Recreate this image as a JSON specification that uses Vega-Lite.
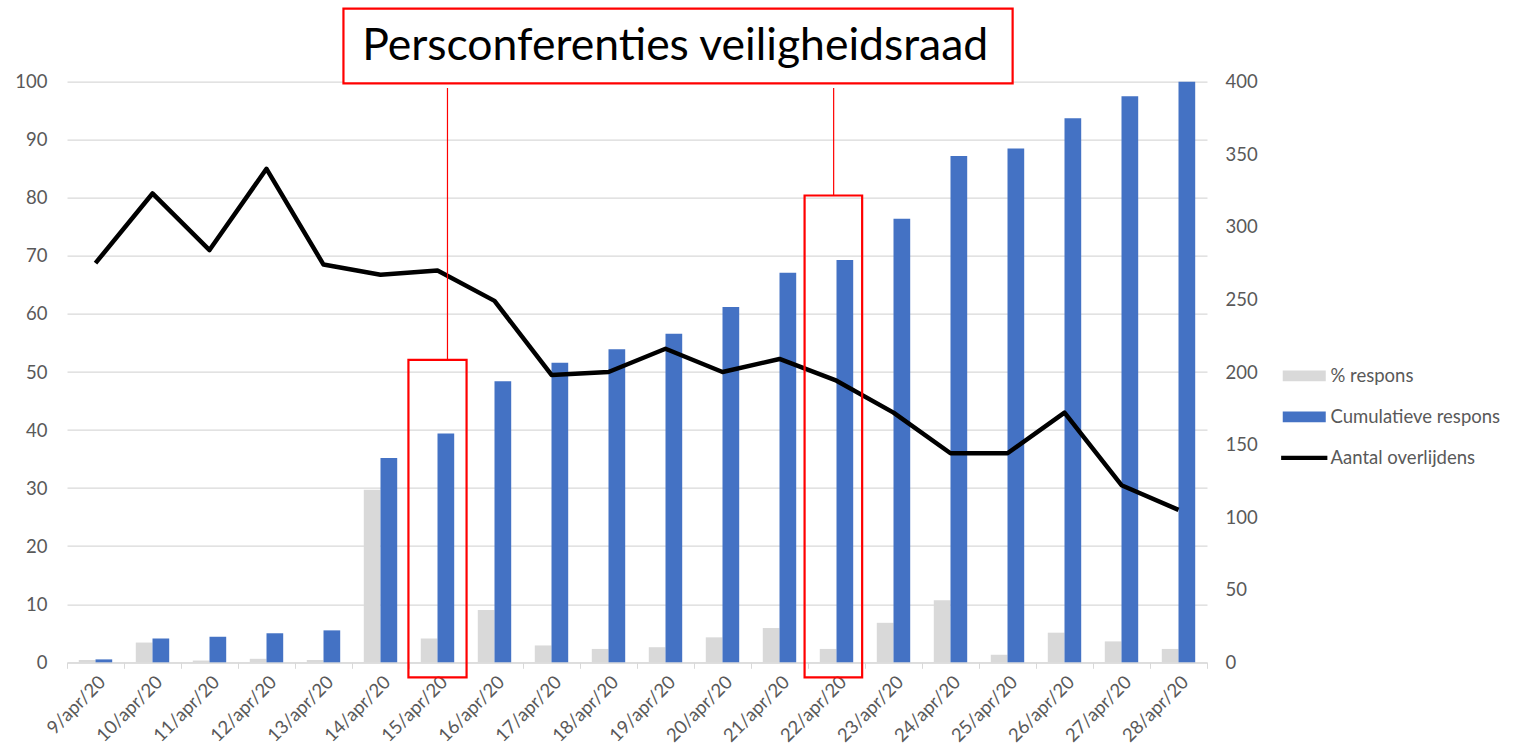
{
  "$schema": "https://vega.github.io/schema/vega-lite/v6.json",
  "width": 1140,
  "height": 580.6,
  "autosize": {"type": "none"},
  "padding": {"left": 67, "top": 81.7, "right": 315, "bottom": 88.7},
  "background": "white",
  "config": {"view": {"stroke": null}, "font": "Lato"},
  "datasets": {
    "main": [
      {"date": "9/apr/20", "% respons": 0.4, "Cumulatieve respons": 0.5, "Aantal overlijdens": 275},
      {"date": "10/apr/20", "% respons": 3.4, "Cumulatieve respons": 4.1, "Aantal overlijdens": 323},
      {"date": "11/apr/20", "% respons": 0.3, "Cumulatieve respons": 4.4, "Aantal overlijdens": 284},
      {"date": "12/apr/20", "% respons": 0.6, "Cumulatieve respons": 5.0, "Aantal overlijdens": 340},
      {"date": "13/apr/20", "% respons": 0.4, "Cumulatieve respons": 5.5, "Aantal overlijdens": 274},
      {"date": "14/apr/20", "% respons": 29.7, "Cumulatieve respons": 35.2, "Aantal overlijdens": 267},
      {"date": "15/apr/20", "% respons": 4.1, "Cumulatieve respons": 39.4, "Aantal overlijdens": 270},
      {"date": "16/apr/20", "% respons": 9.0, "Cumulatieve respons": 48.4, "Aantal overlijdens": 249},
      {"date": "17/apr/20", "% respons": 2.9, "Cumulatieve respons": 51.6, "Aantal overlijdens": 198},
      {"date": "18/apr/20", "% respons": 2.3, "Cumulatieve respons": 53.9, "Aantal overlijdens": 200},
      {"date": "19/apr/20", "% respons": 2.6, "Cumulatieve respons": 56.6, "Aantal overlijdens": 216},
      {"date": "20/apr/20", "% respons": 4.3, "Cumulatieve respons": 61.2, "Aantal overlijdens": 200},
      {"date": "21/apr/20", "% respons": 5.9, "Cumulatieve respons": 67.1, "Aantal overlijdens": 209},
      {"date": "22/apr/20", "% respons": 2.3, "Cumulatieve respons": 69.3, "Aantal overlijdens": 194},
      {"date": "23/apr/20", "% respons": 6.8, "Cumulatieve respons": 76.4, "Aantal overlijdens": 172},
      {"date": "24/apr/20", "% respons": 10.7, "Cumulatieve respons": 87.2, "Aantal overlijdens": 144},
      {"date": "25/apr/20", "% respons": 1.3, "Cumulatieve respons": 88.5, "Aantal overlijdens": 144},
      {"date": "26/apr/20", "% respons": 5.1, "Cumulatieve respons": 93.7, "Aantal overlijdens": 172},
      {"date": "27/apr/20", "% respons": 3.6, "Cumulatieve respons": 97.5, "Aantal overlijdens": 122},
      {"date": "28/apr/20", "% respons": 2.3, "Cumulatieve respons": 100, "Aantal overlijdens": 105}
    ],
    "boxes": [
      {"x1": 5.99, "x2": 7.01, "y1": 52.1, "y2": -2.6},
      {"x1": 12.94, "x2": 13.95, "y1": 80.4, "y2": -2.6}
    ],
    "titlebox": [
      {"x1": 4.85, "x2": 16.59, "y1": 112.6, "y2": 99.7, "text": "Persconferenties veiligheidsraad", "xt": 10.67, "yt": 103.8}
    ],
    "connectors": [
      {"x": 6.675, "y1": 98.9, "y2": 52.1},
      {"x": 13.45, "y1": 98.9, "y2": 80.4}
    ]
  },
  "resolve": {"scale": {"x": "independent", "y": "independent"}},
  "layer": [
    {
      "data": {"name": "main"},
      "transform": [{"fold": ["% respons", "Cumulatieve respons"], "as": ["series", "value"]}],
      "mark": {"type": "bar"},
      "encoding": {
        "x": {
          "field": "date", "type": "nominal", "sort": null,
          "scale": {"paddingInner": 0, "paddingOuter": 0},
          "axis": {
            "title": null, "labelAngle": -45, "labelFont": "Lato", "labelFontSize": 18.5,
            "labelColor": "#595959", "tickBand": "extent", "ticks": true, "tickSize": 6,
            "tickColor": "#d9d9d9", "domainColor": "#d9d9d9", "domainWidth": 1.3, "labelPadding": 4
          }
        },
        "xOffset": {
          "field": "series", "type": "nominal",
          "scale": {"domain": ["% respons", "Cumulatieve respons"], "paddingInner": 0, "paddingOuter": 0.706}
        },
        "y": {
          "field": "value", "type": "quantitative",
          "scale": {"domain": [0, 100], "nice": false},
          "axis": {
            "orient": "left", "title": null, "values": [0, 10, 20, 30, 40, 50, 60, 70, 80, 90, 100],
            "grid": true, "gridColor": "#d9d9d9", "gridWidth": 1.3, "domain": false, "ticks": false,
            "labelPadding": 20, "labelFont": "Lato", "labelFontSize": 18.5, "labelColor": "#595959"
          }
        },
        "color": {
          "field": "series", "type": "nominal",
          "scale": {"domain": ["% respons", "Cumulatieve respons", "Aantal overlijdens"], "range": ["#d9d9d9", "#4472c4", "#000000"]},
          "legend": {
            "orient": "none", "legendX": 1228, "legendY": 285, "title": null,
            "symbolType": "M-4,-1H4V1H-4Z", "symbolSize": 115.6, "labelOffset": 17, "rowPadding": 22,
            "labelFont": "Lato", "labelFontSize": 18.5, "labelColor": "#595959", "labelLimit": 400, "padding": 0,
            "symbolStrokeWidth": 0, "symbolOpacity": 1,
            "encode": {
              "symbols": {
                "update": {
                  "shape": {"signal": "datum.value === 'Aantal overlijdens' ? 'M-4.3,-0.4H4.3V0.4H-4.3Z' : 'M-4,-1H4V1H-4Z'"},
                  "fill": {"signal": "scale('color', datum.value)"},
                  "fillOpacity": {"value": 1},
                  "strokeWidth": {"value": 0}
                }
              }
            }
          }
        }
      }
    },
    {
      "data": {"name": "main"},
      "transform": [{"fold": ["Aantal overlijdens"], "as": ["series", "deaths"]}],
      "mark": {"type": "line", "strokeWidth": 4.5, "strokeJoin": "round", "strokeCap": "butt"},
      "encoding": {
        "x": {"field": "date", "type": "nominal", "sort": null, "scale": {"type": "point", "padding": 0.5}, "axis": null},
        "y": {
          "field": "deaths", "type": "quantitative",
          "scale": {"domain": [0, 400], "nice": false},
          "axis": {
            "orient": "right", "title": null, "values": [0, 50, 100, 150, 200, 250, 300, 350, 400],
            "grid": false, "domain": false, "ticks": false, "labelPadding": 18,
            "labelFont": "Lato", "labelFontSize": 18.5, "labelColor": "#595959"
          }
        },
        "color": {"field": "series", "type": "nominal"}
      }
    },
    {
      "data": {"name": "boxes"},
      "mark": {"type": "rect", "fill": "transparent", "stroke": "#ff0000", "strokeWidth": 2.2},
      "encoding": {
        "x": {"field": "x1", "type": "quantitative", "scale": {"domain": [0, 20], "nice": false, "zero": false}, "axis": null},
        "x2": {"field": "x2"},
        "y": {"field": "y1", "type": "quantitative", "scale": {"domain": [0, 100], "nice": false}, "axis": null},
        "y2": {"field": "y2"}
      }
    },
    {
      "data": {"name": "connectors"},
      "mark": {"type": "rule", "stroke": "#ff0000", "strokeWidth": 1.2},
      "encoding": {
        "x": {"field": "x", "type": "quantitative", "scale": {"domain": [0, 20], "nice": false, "zero": false}, "axis": null},
        "y": {"field": "y1", "type": "quantitative", "scale": {"domain": [0, 100], "nice": false}, "axis": null},
        "y2": {"field": "y2"}
      }
    },
    {
      "data": {"name": "titlebox"},
      "mark": {"type": "rect", "fill": "white", "stroke": "#ff0000", "strokeWidth": 2.2},
      "encoding": {
        "x": {"field": "x1", "type": "quantitative", "scale": {"domain": [0, 20], "nice": false, "zero": false}, "axis": null},
        "x2": {"field": "x2"},
        "y": {"field": "y1", "type": "quantitative", "scale": {"domain": [0, 100], "nice": false}, "axis": null},
        "y2": {"field": "y2"}
      }
    },
    {
      "data": {"name": "titlebox"},
      "mark": {"type": "text", "font": "Lato", "fontSize": 44.5, "color": "#000000", "align": "center", "baseline": "alphabetic"},
      "encoding": {
        "x": {"field": "xt", "type": "quantitative", "scale": {"domain": [0, 20], "nice": false, "zero": false}, "axis": null},
        "y": {"field": "yt", "type": "quantitative", "scale": {"domain": [0, 100], "nice": false}, "axis": null},
        "text": {"field": "text"}
      }
    }
  ]
}
